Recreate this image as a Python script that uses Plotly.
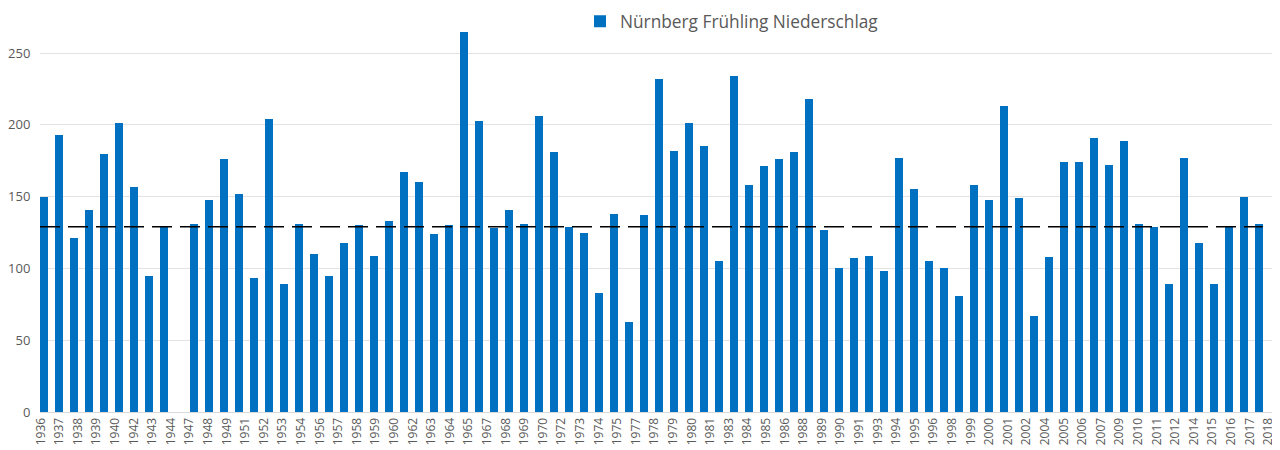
import numpy as np
import plotly.graph_objects as go

# --- data ---
years = list(range(1936, 1945)) + list(range(1946, 2018))
precip = [
    150, 193, 121, 141, 180, 201, 157, 95, 129,
    131, 148, 176, 152, 93, 204, 89, 131, 110, 95,
    118, 130, 109, 133, 167, 160, 124, 130, 265, 203,
    128, 141, 131, 206, 181, 129, 125, 83, 138, 63,
    137, 232, 182, 201, 185, 105, 234, 158, 171, 176,
    181, 218, 127, 100, 107, 109, 98, 177, 155, 105,
    100, 81, 158, 148, 213, 149, 67, 108, 174, 174,
    191, 172, 189, 131, 129, 89, 177, 118, 89, 129,
    150, 131,
]
reference_value = 129
tick_labels = [
    "1936", "1937", "1938", "1939", "1940", "1942", "1943", "1944", "1947", "1948",
    "1949", "1951", "1952", "1953", "1954", "1956", "1957", "1958", "1959", "1960",
    "1962", "1963", "1964", "1965", "1967", "1968", "1969", "1970", "1972", "1973",
    "1974", "1975", "1977", "1978", "1979", "1980", "1981", "1983", "1984", "1985",
    "1986", "1988", "1989", "1990", "1991", "1993", "1994", "1995", "1996", "1998",
    "1999", "2000", "2001", "2002", "2004", "2005", "2006", "2007", "2009", "2010",
    "2011", "2012", "2014", "2015", "2016", "2017", "2018",
]
series_name = "Nürnberg Frühling Niederschlag"

# --- layout geometry ---
bar_width = 0.49
x_lo = years[0] - 0.267
x_hi = years[-1] + 1.267
tick_pos = np.linspace(years[0] - 0.22, years[-1] + 0.62, len(tick_labels))

grey = "#595959"
fnt = "Open Sans, Noto Sans, sans-serif"

fig = go.Figure()
fig.add_trace(go.Bar(
    x=years, y=precip, width=bar_width, name=series_name,
    marker=dict(color="#0070C0", line=dict(width=0)),
    showlegend=True,
))

fig.add_shape(
    type="line", xref="x", yref="y",
    x0=x_lo, x1=years[-1] + bar_width / 2,
    y0=reference_value, y1=reference_value,
    line=dict(color="#000000", width=1.6, dash="20px,8px"),
    layer="above",
)

# page body has an 8px margin, so the figure is sized to end at the window edge
fig.update_layout(
    width=1272, height=442,
    margin=dict(l=32, r=2, t=2, b=38, autoexpand=False),
    paper_bgcolor="white", plot_bgcolor="white",
    font=dict(family=fnt, color=grey),
    showlegend=True,
    legend=dict(
        orientation="h", x=(572 - 32) / 1238, xanchor="left",
        y=1.016, yanchor="top", font=dict(size=17.3, color=grey, family=fnt),
        bgcolor="rgba(0,0,0,0)",
    ),
    bargap=0,
)
fig.update_xaxes(
    range=[x_lo, x_hi], tickmode="array", tickvals=tick_pos, ticktext=tick_labels,
    tickangle=-90, tickfont=dict(size=12, color=grey, family=fnt),
    showgrid=False, showline=True, linecolor="#D9D9D9", linewidth=1,
    ticks="", zeroline=False, fixedrange=True,
)
fig.update_yaxes(
    range=[0, 280], tickmode="linear", tick0=0, dtick=50,
    tickfont=dict(size=13, color=grey, family=fnt),
    showgrid=True, gridcolor="#E3E3E3", gridwidth=1,
    zeroline=False, showline=False,
    ticks="outside", ticklen=6, tickcolor="rgba(0,0,0,0)",
    fixedrange=True,
)

fig.write_html("out.html")
